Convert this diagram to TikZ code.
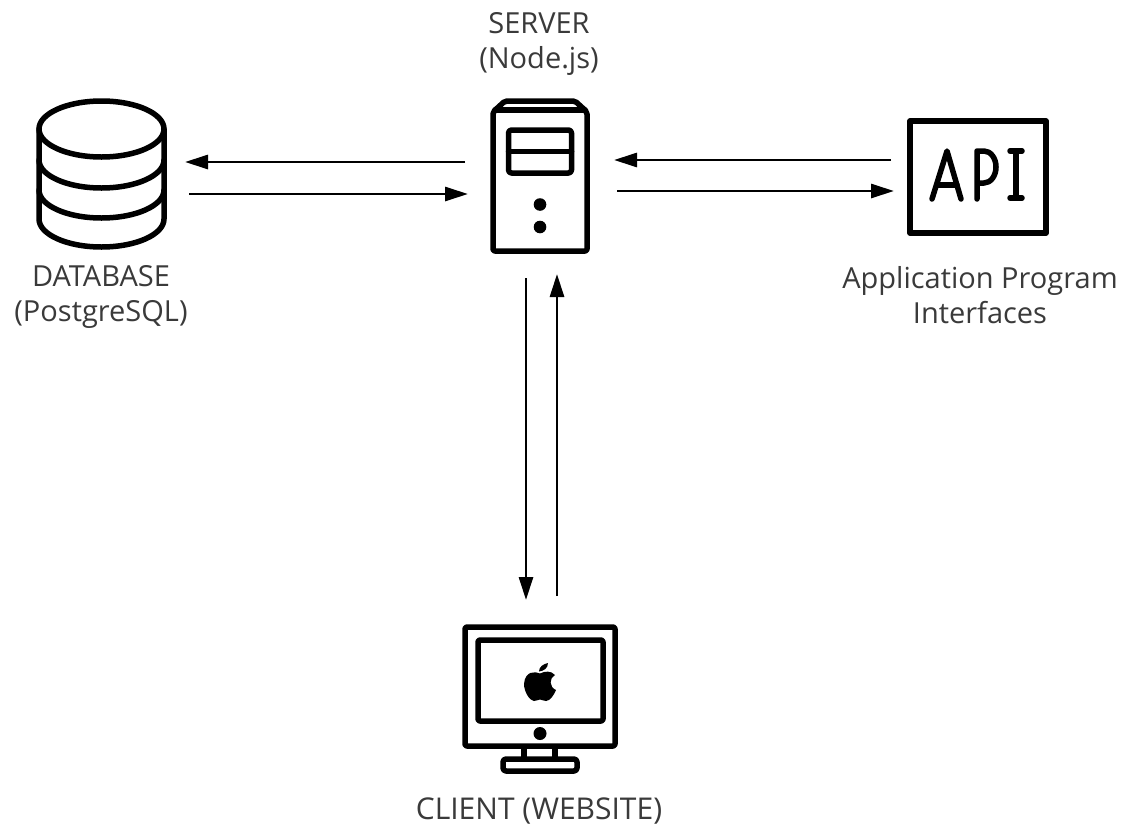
\documentclass[tikz,border=0pt]{standalone}
\usepackage{fontspec}
\setmainfont{Open Sans}
\usetikzlibrary{arrows.meta,calc}
\definecolor{ink}{HTML}{000000}
\definecolor{lab}{HTML}{3A3A3A}
\tikzset{
  icon/.style={draw=ink,line width=5.5pt,line join=round,line cap=round},
  slot/.style={inner sep=0pt,outer sep=0pt,draw=none,rectangle},
  flow/.style={draw=ink,line width=2.8pt,-{Triangle[length=23pt,width=14pt]}},
  lab/.style={text=lab,font=\fontsize{29}{34.5}\selectfont,align=center,inner sep=0pt},
}
\begin{document}
\begin{tikzpicture}[x=1pt,y=-1pt]
\useasboundingbox (0,0) rectangle (1124,830);
\fill[white] (0,0) rectangle (1124,830);
% anchor boxes
\node[slot,minimum width=0pt,minimum height=32pt] (db) at (187,177) {};
\node[slot,minimum width=152pt,minimum height=202pt] (srv) at (541,177) {};
\node[slot,minimum width=0pt,minimum height=32pt] (api) at (892.5,176) {};
\node[slot,minimum width=80pt,minimum height=0pt] (cli) at (541,598) {};
% database
\draw[icon] (39,129) -- (39,219) arc[start angle=180,end angle=0,x radius=62.5,y radius=28] -- (164,129);
\draw[icon] (101.5,129) ellipse[x radius=62.5,y radius=28];
\draw[icon] (39,160) arc[start angle=180,end angle=0,x radius=62.5,y radius=28];
\draw[icon] (39,190) arc[start angle=180,end angle=0,x radius=62.5,y radius=28];
% server
\draw[icon,rounded corners=2pt] (493,112) -- (493,251) -- (587,251) -- (587,112) -- (575,101) -- (505,101) -- cycle;
\draw[icon] (495,110) -- (585,110);
\draw[icon,rounded corners=3pt] (508.5,130) rectangle (571.5,173);
\draw[icon] (508.5,151.5) -- (571.5,151.5);
\fill[ink] (540,204.5) circle[radius=6.3];
\fill[ink] (540,227) circle[radius=6.3];
% API
\draw[icon] (910,121) rectangle (1046,233);
\draw[icon] (932,199) -- (947,151) -- (961,199);
\draw[icon] (937,185) -- (957,185);
\draw[icon] (977,199) -- (977,151) -- (984,151) arc[start angle=-90,end angle=90,x radius=12,y radius=16] -- (977,183);
\draw[icon] (1016,151) -- (1016,198);
\draw[icon] (1010,151) -- (1022,151);
\draw[icon] (1010,198) -- (1022,198);
% monitor
\draw[icon,rounded corners=2pt] (465,627) rectangle (615,746);
\draw[icon,rounded corners=2pt] (478,640) rectangle (603,721);
\fill[ink] (540,733.5) circle[radius=6.5];
\draw[icon,line cap=butt] (524,746) -- (524,758);
\draw[icon,line cap=butt] (555,746) -- (555,758);
\draw[icon,rounded corners=3pt] (503,771) -- (503,759) -- (577,759) -- (577,771) -- cycle;
% apple logo
\fill[ink] (540,673.5) .. controls (535,671) and (525,671) .. (524,684)
  .. controls (524,692) and (530,701) .. (534,701)
  .. controls (537,701) and (538,699.5) .. (540,699.5)
  .. controls (542,699.5) and (543,701) .. (546,701)
  .. controls (550,701) and (554,695) .. (556,690)
  .. controls (549,687) and (549,678) .. (555,675)
  .. controls (551,670.5) and (545,671) .. (540,673.5) -- cycle;
\fill[ink] (539,671.5) .. controls (539,667) and (543,664) .. (548,663)
  .. controls (548,668) and (544,671) .. (539,671.5) -- cycle;
% connectors
\draw[flow] ([yshift=15pt]srv.west) -- ([xshift=-2pt,yshift=15pt]db.east);
\draw[flow] ([xshift=2pt,yshift=-17pt]db.east) -- ([xshift=3pt,yshift=-17pt]srv.west);
\draw[flow] ([xshift=-1.5pt,yshift=16pt]api.west) -- ([xshift=-3pt,yshift=17pt]srv.east);
\draw[flow] ([yshift=-14pt]srv.east) -- ([xshift=1.5pt,yshift=-15pt]api.west);
\draw[flow] ([xshift=-15pt]srv.south) -- ([xshift=-15pt,yshift=-2pt]cli.center);
\draw[flow] ([xshift=16pt,yshift=2pt]cli.center) -- ([xshift=16pt,yshift=4pt]srv.south);
% labels
\node[lab] (lsrv) at (539,44) {SERVER\\(Node.js)};
\node[lab] (ldb) at (101,297) {DATABASE\\(PostgreSQL)};
\node[lab] (lapi) at (980,295) {Application Program\\Interfaces};
\node[lab,font=\fontsize{30}{34.5}\selectfont] (lcli) at (539,811) {CLIENT (WEBSITE)};
\end{tikzpicture}
\end{document}
